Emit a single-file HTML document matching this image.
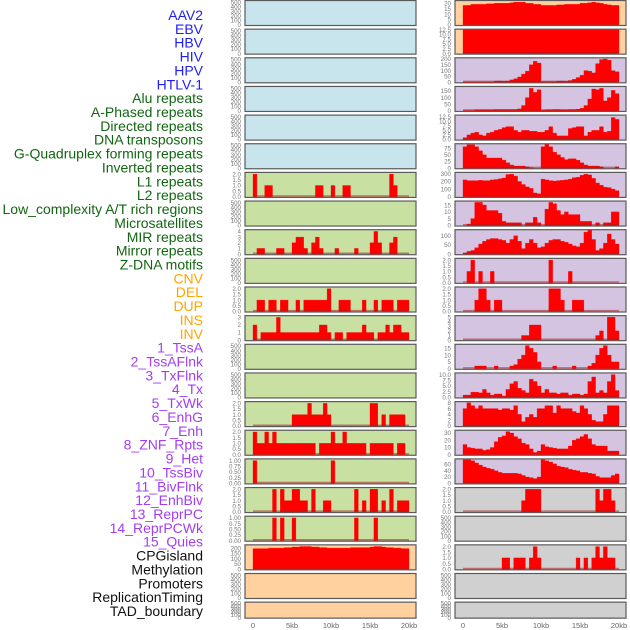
<!DOCTYPE html>
<html><head><meta charset="utf-8">
<style>
body{margin:0;background:#fff;width:630px;height:630px;overflow:hidden;font-family:"Liberation Sans",sans-serif}
svg{display:block}
</style></head>
<body>
<svg id="chart" width="630" height="630"></svg>
<script>
const labels=["AAV2","EBV","HBV","HIV","HPV","HTLV-1","Alu repeats","A-Phased repeats","Directed repeats","DNA transposons","G-Quadruplex forming repeats","Inverted repeats","L1 repeats","L2 repeats","Low_complexity A/T rich regions","Microsatellites","MIR repeats","Mirror repeats","Z-DNA motifs","CNV","DEL","DUP","INS","INV","1_TssA","2_TssAFlnk","3_TxFlnk","4_Tx","5_TxWk","6_EnhG","7_Enh","8_ZNF_Rpts","9_Het","10_TssBiv","11_BivFlnk","12_EnhBiv","13_ReprPC","14_ReprPCWk","15_Quies","CPGisland","Methylation","Promoters","ReplicationTiming","TAD_boundary"];
const labelGroups=[6,13,5,15,5];
const xTicks=["0","5kb","10kb","15kb","20kb"];
const xTickKb=[0,5,10,15,20];

// ---- data (40 bins of 0.5kb over 0-20kb) ----
const L7=[2,0,0,1,1,0,0,0,0,0,0,0,0,0,0,0,1,1,0,0,1,0,0,1,1,0,0,0,0,0,0,0,0,0,0,2,1,0,0,0];
const L9=[0,1,1,0,0,0,1,1,0,0,2,3,3,1,0,2,3,1,0,0,0,1,0,0,0,0,1,0,0,0,2,4,2,0,0,2,3,0,0,0];
const L11=[0,1,1,0,1,1,0,1,1,0,0,1,0,1,1,1,1,1,1,2,0,0,1,1,1,0,0,0,1,0,0,1,0,1,1,1,0,1,1,1];
const L12=[2,0,1,1,1,1,3,1,1,1,1,1,1,1,1,1,1,2,2,1,0,1,1,0,1,1,1,1,2,1,1,0,1,1,2,1,2,2,1,1];
const L15=[0,0,0,0,0,0,0,0,0,0,1,1,1,1,2,1,1,1,2,1,0,0,0,0,0,0,0,0,0,0,2,2,0,1,0,1,1,1,1,0];
const L16=[2,1,1,2,1,2,1,1,1,1,1,1,1,1,1,1,0,1,1,1,2,1,1,2,1,1,1,1,1,0,1,1,1,1,1,1,0,1,1,0];
const L17=[1,0,0,0,0,0,0,0,0,0,0,0,0,0,0,0,0,0,0,0,1,0,0,0,0,0,0,0,0,0,0,0,0,0,0,0,0,0,0,0];
const L18=[0,0,0,0,0,2,0,2,1,1,2,2,1,1,0,2,0,0,1,1,0,0,0,0,0,0,2,0,1,0,2,2,0,1,0,2,0,1,1,1];
const L19=[0,0,0,0,0,1,0,1,0,0,1,0,0,0,0,0,0,0,0,0,0,0,0,0,0,0,1,0,0,0,0,1,0,0,0,0,0,0,0,0];
const CPG=[195,195,195,195,200,200,200,200,205,205,210,210,215,215,215,210,210,205,205,200,200,200,200,200,200,205,205,205,205,205,210,215,215,210,205,205,200,200,195,195];
const AAV2=[18,18,19,19,19,19,19.5,19.5,20,20,20,20,20.5,21,21,21,20,20,19,19,18,18,18,18,18.5,18.5,19,19,19,19,20,20,20.5,21,20.5,20,19,18.5,18,18];
const EBV=[12.5,12.5,12.5,12.5,12.5,12.5,12.5,12.5,12.5,12.5,12.5,12.5,12.5,12.5,12.5,12.5,12.5,12.5,12.5,12.5,12.5,12.5,12.5,12.5,12.5,12.5,12.5,12.5,12.5,12.5,12.5,12.5,12.5,12.5,12.5,12.5,12.5,12.5,12.5,12.5];
const HBV=[2,2,2,2,2,2,2,2,10,10,8,10,20,30,45,70,95,150,180,165,5,5,5,5,10,10,8,15,25,40,60,100,95,80,160,195,200,190,100,90];
const HIV=[2,2,2,8,8,8,8,8,10,10,10,10,10,10,15,40,100,170,140,160,5,8,8,10,10,8,8,10,10,12,20,40,90,165,160,170,75,100,155,130];
const HPV=[1,2.5,3.5,4,2.5,2,3.5,4,5,5.5,6.5,7,7,5,4,5,5,4.5,4.5,4,4,5,7,3.5,2,2,2,6,6.5,7,7,2,4,5,5,7,4,4.5,12,11];
const HTLV=[80,88,88,80,65,50,38,38,38,38,30,20,12,8,8,8,5,2,0,0,80,90,80,60,50,40,32,35,35,30,20,12,8,8,8,5,0,0,0,5];
const R7=[220,210,210,210,215,210,210,220,225,235,245,290,295,270,200,160,130,110,50,40,230,220,210,205,210,215,220,230,250,255,280,295,285,240,180,150,125,120,100,80];
const R8=[0,1,5,17,17,15,11,11,11,9,3,2,2,2,2,0,2,2,6,2,0,12,17,16,11,8,10,8,8,8,3,3,3,0,2,0,2,2,10,10];
const R9=[5,15,20,35,55,70,80,85,85,80,75,60,80,100,70,30,60,80,60,35,40,60,75,80,80,70,65,55,45,40,60,120,130,80,20,30,60,110,80,55];
const R10=[0,1,2,0,1,0,0,1,0,0,0,0,0,0,0,0,0,0,0,0,0,0,2,0,0,0,0,1,0,0,0,0,0,0,0,0,0,0,0,0];
const R11=[0,0,0,1,2,2,1,0,1,1,0,0,0,0,0,0,0,0,0,0,0,0,2,2,2,1,0,0,1,1,1,0,0,0,0,0,0,0,0,0];
const R12=[0,0,0,0,0,0,0,0,0,0,0,0,0,0,0,1,1,3.3,3.3,3.3,0,0,0,0,0,0,0,0,0,0,0,0,0,0,1,2,0,5,5,2];
const R13=[0,0,0,2,2,2,0,0,2,0,0,0,2,3,7,10,17,15,12,5,0,0,0,2,0,0,0,0,2,0,0,0,2,4,10,15,17,10,5,5];
const R14=[1,1,2.3,2.3,2,3.5,2,1,1.5,1.5,0.5,3.5,6,7,4,3,2,8,7,5,2,3.5,2,2,1.5,2,2,1,1.5,1.5,1,1.5,7,9,2,3,2,7,10,3];
const R15=[6,8,7,6,7,6,6,6,6,5.5,6,6,5.5,7,4,1.5,3,4,3,6,6,7,7,4.5,7,6,6,6,5,4.5,7,6,4,2,1.5,1.5,4,7,7,7];
const R16=[14,10,9,8,8,6,7,10,18,24,26,32,30,25,22,16,14,8,3,5,14,11,10,9,8,8,8,12,20,22,25,28,22,14,12,12,12,5,5,5];
const R17=[75,75,72,65,58,52,48,45,40,35,32,32,32,32,30,25,20,18,15,20,75,72,68,62,55,52,50,45,42,40,35,35,32,30,22,18,18,18,25,30];
const R18=[0,0,0,0,0,0,0,0,0,0,0,0,0,0,0,1,2,2,2,2,0,0,0,0,0,0,0,0,0,0,0,0,0,0,2,1,2,2,1,0];
const R20=[0,0,0,0,0,0,0,0,0,0,1,1,0,1,1,1,0,1,2,1,0,0,0,0,0,0,0,0,0,1,0,1,0,1,2,1,2,1,1,0];

// tick label sets
const T500=["0","100","200","300","400","500"];
const T2=["0.0","0.5","1.0","1.5","2.0"];
const T1=["0.00","0.25","0.50","0.75","1.00"];
const T4=["0","1","2","3","4"];
const T3=["0","1","2","3"];
const TCPG=["0","50","100","150","200"];
const TAAV=["0","5","10","15","20"];
const TEBV=["0.0","2.5","5.0","7.5","10.0","12.5"];
const THBV=["0","50","100","150","200"];
const THIV=["0","50","100","150"];
const THTLV=["0","25","50","75"];
const TR7=["0","100","200","300"];
const T15=["0","5","10","15"];
const TR9=["0","50","100"];
const T5=["0","1","2","3","4","5"];
const T10=["0.0","2.5","5.0","7.5","10.0"];
const T8=["0","2","4","6","8"];
const T30=["0","10","20","30"];
const T60=["0","20","40","60"];

const BLUE="#c8e4ec",GREEN="#c8e1a3",ORANGE="#ffd19f",PURPLE="#d4c4e2",GRAY="#d0d0d0";
const leftTracks=[
[BLUE,null,525,T500],[BLUE,null,525,T500],[BLUE,null,525,T500],[BLUE,null,525,T500],[BLUE,null,525,T500],[BLUE,null,525,T500],
[GREEN,L7,2.1,T2],[GREEN,null,525,T500],[GREEN,L9,4.2,T4],[GREEN,null,525,T500],[GREEN,L11,2.1,T2],[GREEN,L12,3.15,T3],
[GREEN,null,525,T500],[GREEN,null,525,T500],[GREEN,L15,2.1,T2],[GREEN,L16,2.1,T2],[GREEN,L17,1.05,T1],[GREEN,L18,2.1,T2],[GREEN,L19,1.05,T1],
[ORANGE,CPG,225,TCPG],[ORANGE,null,525,T500],[ORANGE,null,525,T500]];
const rightTracks=[
[ORANGE,AAV2,22,TAAV],[ORANGE,EBV,12.5,TEBV],[PURPLE,HBV,205,THBV],[PURPLE,HIV,180,THIV],[PURPLE,HPV,13,TEBV],[PURPLE,HTLV,89,THTLV],
[PURPLE,R7,310,TR7],[PURPLE,R8,17.5,T15],[PURPLE,R9,130,TR9],[PURPLE,R10,2.1,T2],[PURPLE,R11,2.1,T2],[PURPLE,R12,5.2,T5],
[PURPLE,R13,17.5,T15],[PURPLE,R14,10.5,T10],[PURPLE,R15,8.2,T8],[PURPLE,R16,33,T30],[PURPLE,R17,76,T60],[GRAY,R18,2.1,T2],
[GRAY,null,525,T500],[GRAY,R20,2.1,T2],[GRAY,null,525,T500],[GRAY,null,525,T500]];

const NS="http://www.w3.org/2000/svg";
const svg=document.getElementById('chart');
function mk(tag,attrs){const e=document.createElementNS(NS,tag);for(const k in attrs)e.setAttribute(k,attrs[k]);return e;}

const groupColors=["#1f1fef","#116611","#ffa500","#a33ef0","#111111"];
let li=0;
const labelSpacing=(611-15)/(labels.length-1);
labelGroups.forEach((n,g)=>{for(let j=0;j<n;j++){
  const t=mk('text',{x:203,y:15+li*labelSpacing+5,'text-anchor':'end','font-size':'14',fill:groupColors[g]});
  t.textContent=labels[li];
  
  
  svg.appendChild(t);li++;}});

const pitch=28.65;
function rowGeom(r){const top=r*pitch+0.5;const h=(r===21)?16:25;return [top,h];}
function drawTrack(tr,r,px,zeroX,kbPx,side){
  const [bg,data,ymax,ticks]=tr;const [top,h]=rowGeom(r);
  const g=mk('g',{});
  
  
  svg.appendChild(g);
  const rect=mk('rect',{x:px,y:top,width:171,height:h,fill:bg,stroke:'#5a5a5a','stroke-width':1.2});
  
  
  g.appendChild(rect);
  const bottom=top+h-0.6;const inner=h-1.2;
  const yS=v=>bottom-Math.min(v,ymax)/ymax*inner;
  const xS=kb=>zeroX+kb*kbPx;
  if(data){
    let d='';
    data.forEach((v,i)=>{if(v>0){const x0=xS(i*0.5),x1=xS((i+1)*0.5);d+=`M${x0.toFixed(2)},${bottom}V${yS(v).toFixed(2)}H${x1.toFixed(2)}V${bottom}Z`;}});
    const p=mk('path',{d:d,fill:'#ff0000',stroke:'#ff0000','stroke-width':0.3});
    
    
    g.appendChild(p);
    const bl=mk('line',{x1:xS(0),x2:xS(20),y1:bottom-0.8,y2:bottom-0.8,stroke:'rgba(170,30,30,0.55)','stroke-width':1.5});
    
    
    g.appendChild(bl);
  }
  ticks.forEach(s=>{const v=parseFloat(s);
    const t=mk('text',{x:px-4,y:yS(v)+2.2,'text-anchor':'end','font-size':'6.2',fill:'#777'});
    t.textContent=s;
    
    
    g.appendChild(t);});
}
leftTracks.forEach((tr,r)=>drawTrack(tr,r,245,253,7.8,'left'));
rightTracks.forEach((tr,r)=>drawTrack(tr,r,455,463,7.8,'right'));

[[253],[463]].forEach(([z],k)=>{xTicks.forEach((s,i)=>{
  const t=mk('text',{x:z+xTickKb[i]*7.8,y:628,'text-anchor':'middle','font-size':'7.5',fill:'#666'});
  t.textContent=s;
  
  
  svg.appendChild(t);});});
</script>
</body></html>
